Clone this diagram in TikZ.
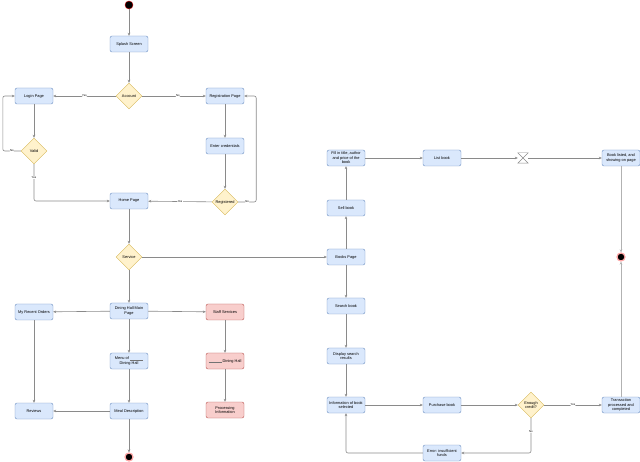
\documentclass[tikz,border=0pt]{standalone}
\usepackage{fontspec}
\setmainfont{Liberation Sans}
\usepackage{tikz}
\usetikzlibrary{positioning, arrows.meta, shapes.geometric}
\definecolor{boxfill}{HTML}{DAE8FC}
\definecolor{boxline}{HTML}{6C8EBF}
\definecolor{askfill}{HTML}{FFF2CC}
\definecolor{askline}{HTML}{D6B656}
\definecolor{stafffill}{HTML}{F8CECC}
\definecolor{staffline}{HTML}{B85450}
\definecolor{flow}{HTML}{8A8A8A}
\newcommand{\blank}{\textcolor{black!55}{\rule[-0.4pt]{13pt}{0.2pt}}}

\begin{document}
\begin{tikzpicture}[x=1pt, y=-1pt,
  font=\fontsize{3.9}{4.6}\selectfont,
  page/.style={draw=boxline, fill=boxfill, rounded corners=2pt, minimum width=38pt, minimum height=16pt, inner sep=1pt, align=center, line width=0.4pt},
  staff/.style={page, draw=staffline, fill=stafffill},
  ask/.style={diamond, draw=askline, fill=askfill, minimum width=26pt, minimum height=26pt, inner sep=0pt, align=center, line width=0.4pt},
  start/.style={circle, fill=black, draw=red!80!black, line width=0.4pt, minimum size=8pt, inner sep=0pt},
  finish/.style={circle, fill=black, draw=red!35, line width=1.2pt, minimum size=8pt, inner sep=0pt},
  flowline/.style={draw=flow, line width=0.6pt, -{Stealth[length=3pt, width=2.6pt]}, rounded corners=2pt},
  paleline/.style={flowline, draw=black!30, line width=0.9pt},
  answer/.style={fill=white, inner sep=0.4pt, font=\fontsize{2.8}{3}\selectfont}]
\useasboundingbox (0,0) rectangle (640,462);
\node (init) [start] at (129,5) {};
\node (splash) [page] at (129,44) {Splash Screen};
\node (account) [ask] at (129,96) {Account};
\node (login) [page] at (34,96) {Login Page};
\node (register) [page] at (225,96) {Registration Page};
\node (valid) [ask] at (34,151) {Valid};
\node (creds) [page] at (225,146) {Enter credentials};
\node (registered) [ask] at (225,202) {Registered};
\node (home) [page] at (129,201) {Home Page};
\node (service) [ask] at (129,257) {Service};
\node (dining) [page] at (129,311) {Dining Hall Main\\Page};
\node (orders) [page] at (34,312) {My Recent Orders};
\node (staff) [staff] at (225,312) {Staff Services};
\node (menu) [page] at (129,361) {Menu of \blank\\Dining Hall};
\node (hall) [staff] at (225,361) {\blank{} Dining Hall};
\node (reviews) [page] at (34,411) {Reviews};
\node (meal) [page] at (129,411) {Meal Description};
\node (processing) [staff] at (225,410) {Processing\\Information};
\node (done) [finish] at (129,457) {};
\node (books) [page] at (346,257) {Books Page};
\node (sell) [page] at (346,208) {Sell book};
\node (fill) [page] at (346,158) {Fill in title, author\\and price of the\\book};
\node (list) [page] at (442,158) {List book};
\node (timer) [minimum width=10pt, minimum height=10pt, inner sep=0pt] at (523,158) {};
\node (listed) [page] at (621,158) {Book listed, and\\showing on page};
\node (sold) [finish] at (621,257) {};
\node (search) [page] at (346,306) {Search book};
\node (results) [page] at (346,356) {Display search\\results};
\node (info) [page] at (346,405) {Information of book\\selected};
\node (purchase) [page] at (442,405) {Purchase book};
\node (credit) [ask] at (531,405) {Enough\\credit?};
\node (paid) [page] at (621,405) {Transaction\\processed and\\completed};
\node (error) [page] at (442,453) {Error: insufficient\\funds};
\draw[draw=flow, line width=0.4pt] (timer.north west) -- (timer.north east) -- (timer.south west) -- (timer.south east) -- cycle;
\draw[flowline] (init) -- (splash);
\draw[flowline] (splash) -- (account);
\draw[flowline] (account) -- node[answer] {Yes} (login);
\draw[flowline] (account) -- node[answer, pos=0.56] {No} (register);
\draw[flowline] (login) -- (valid);
\draw[flowline] (valid.west) -- node[answer] {No} ++(-18,0) |- (login.west);
\draw[flowline] (valid.south) |- node[answer, pos=0.18] {Yes} (home.west);
\draw[flowline] (register) -- (creds);
\draw[flowline] (creds) -- (registered);
\draw[flowline] (registered) -- node[answer] {Yes} (home);
\draw[flowline] (registered.east) -- node[answer] {No} ++(18,0) |- (register.east);
\draw[flowline] (home) -- (service);
\draw[flowline] (service) -- (books);
\draw[flowline] (service) -- (dining);
\draw[flowline] (dining) -- (orders);
\draw[flowline] (dining) -- (staff);
\draw[flowline] (dining) -- (menu);
\draw[flowline] (orders) -- (reviews);
\draw[flowline] (menu) -- (meal);
\draw[flowline] (meal) -- (reviews);
\draw[flowline] (meal) -- (done);
\draw[flowline] (staff) -- (hall);
\draw[flowline] (hall) -- (processing);
\draw[flowline] (books) -- (sell);
\draw[flowline] (sell) -- (fill);
\draw[flowline] (fill) -- (list);
\draw[flowline] (list) -- (timer);
\draw[flowline] (timer) -- (listed);
\draw[paleline] (listed) -- (sold);
\draw[flowline] (books) -- (search);
\draw[flowline] (search) -- (results);
\draw[flowline] (results) -- (info);
\draw[flowline] (info) -- (purchase);
\draw[flowline] (purchase) -- (credit);
\draw[flowline] (credit) -- node[answer] {Yes} (paid);
\draw[flowline] (credit.south) |- node[answer, pos=0.19] {No} (error.east);
\draw[flowline] (error.west) -| (info.south);
\draw[paleline] (paid) -- (sold);
\end{tikzpicture}
\end{document}
